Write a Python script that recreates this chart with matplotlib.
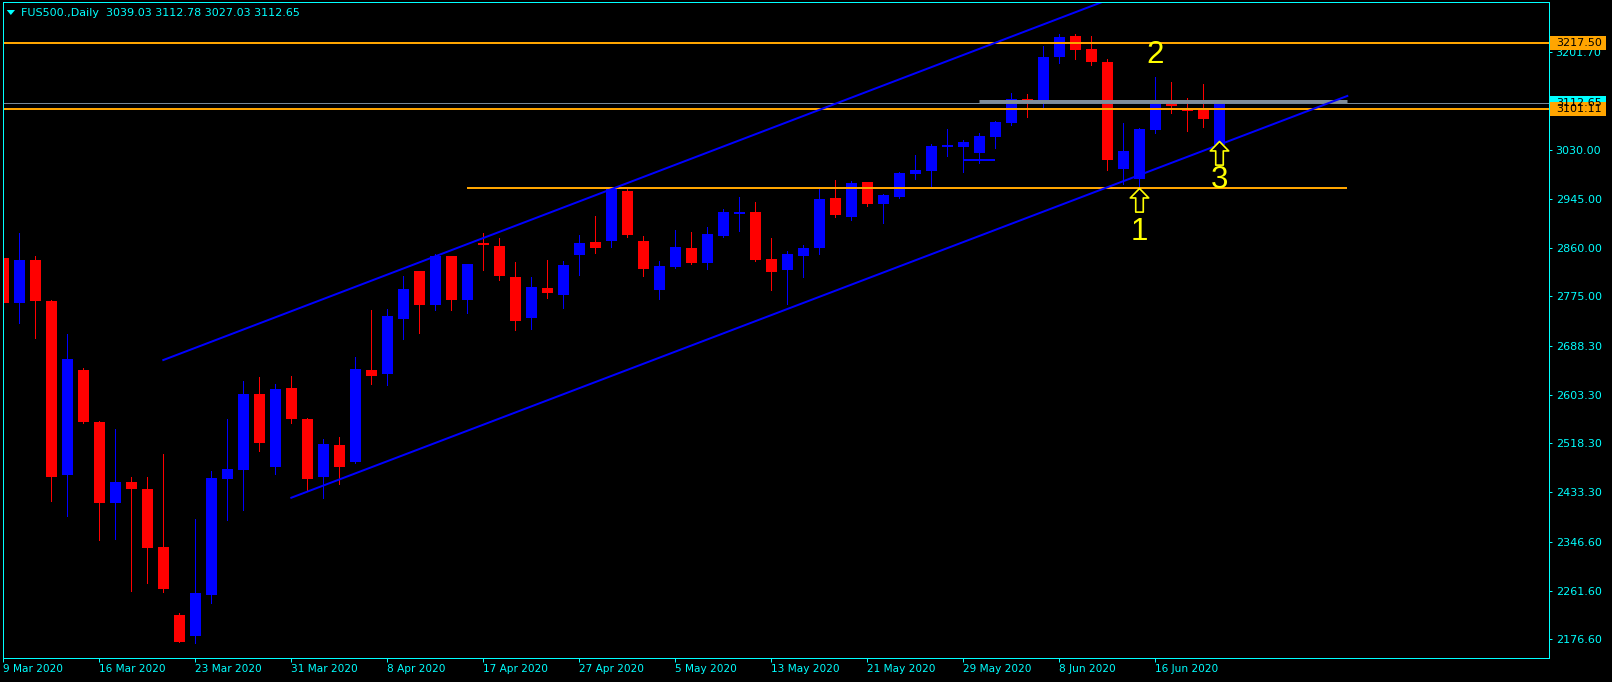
import numpy as np
import matplotlib.pyplot as plt
from matplotlib.path import Path
from matplotlib.patches import Rectangle, Polygon
import matplotlib.transforms as mtransforms

# daily FUS500 bars, 9 Mar 2020 .. 22 Jun 2020 (bar index = position)
opens = [2842, 2764, 2838, 2767, 2463, 2646, 2556, 2415, 2451, 2439,
         2338, 2219, 2183, 2254, 2456, 2472, 2604, 2477, 2615, 2561,
         2460, 2516, 2486, 2646, 2639, 2735, 2819, 2760, 2845, 2768,
         2868, 2863, 2809, 2737, 2790, 2777, 2847, 2870, 2871, 2959,
         2871, 2786, 2826, 2859, 2833, 2880, 2919, 2922, 2840, 2821,
         2845, 2859, 2947, 2913, 2974, 2936, 2948, 2989, 2994, 3035,
         3035, 3025, 3053, 3077, 3119, 3112, 3193, 3229, 3206, 3184,
         2997, 2980, 3065, 3114, 3102, 3100, 3039.03]
highs = [2850, 2885, 2845, 2769, 2709, 2650, 2557, 2544, 2460, 2460,
         2500, 2222, 2386, 2470, 2561, 2627, 2634, 2622, 2636, 2563,
         2526, 2530, 2669, 2751, 2753, 2810, 2820, 2849, 2846, 2832,
         2885, 2877, 2835, 2809, 2838, 2837, 2882, 2915, 2964, 2964,
         2880, 2837, 2891, 2887, 2896, 2927, 2948, 2940, 2877, 2854,
         2865, 2966, 2978, 2976, 2975, 2953, 2992, 3022, 3041, 3067,
         3048, 3060, 3081, 3130, 3128, 3212, 3233, 3233, 3229, 3189,
         3077, 3069, 3158, 3149, 3121, 3145, 3112.78]
lows = [2693, 2729, 2703, 2418, 2392, 2554, 2349, 2352, 2261, 2274,
        2260, 2172, 2170, 2240, 2385, 2403, 2505, 2465, 2554, 2435,
        2423, 2448, 2484, 2622, 2620, 2700, 2711, 2751, 2751, 2746,
        2821, 2803, 2716, 2718, 2772, 2755, 2812, 2850, 2861, 2878,
        2810, 2770, 2824, 2831, 2823, 2878, 2889, 2837, 2786, 2762,
        2809, 2849, 2913, 2908, 2933, 2903, 2947, 2980, 2966, 3020,
        2992, 3008, 3034, 3074, 3088, 3105, 3182, 3189, 3179, 2995,
        2971, 2964, 3060, 3095, 3063, 3070, 3027.03]
closes = [2764, 2838, 2767, 2460, 2666, 2555, 2415, 2451, 2439, 2336,
          2264, 2172, 2257, 2458, 2474, 2604, 2519, 2613, 2561, 2456,
          2517, 2477, 2648, 2636, 2741, 2788, 2760, 2845, 2768, 2831,
          2865, 2811, 2732, 2791, 2781, 2830, 2868, 2859, 2962, 2882,
          2823, 2828, 2861, 2833, 2884, 2922, 2922, 2838, 2817, 2849,
          2859, 2945, 2917, 2973, 2936, 2952, 2990, 2995, 3037, 3039,
          3044, 3055, 3079, 3119, 3114, 3193, 3227, 3205, 3184, 3013,
          3029, 3067, 3117, 3107, 3098, 3084, 3112.65]

date_ticks = [0, 6, 12, 18, 24, 30, 36, 42, 48, 54, 60, 66, 72]
date_labels = ["9 Mar 2020", "16 Mar 2020", "23 Mar 2020", "31 Mar 2020",
               "8 Apr 2020", "17 Apr 2020", "27 Apr 2020", "5 May 2020",
               "13 May 2020", "21 May 2020", "29 May 2020", "8 Jun 2020",
               "16 Jun 2020"]
price_ticks = [3201.70, 3030.00, 2945.00, 2860.00, 2775.00, 2688.30,
               2603.30, 2518.30, 2433.30, 2346.60, 2261.60, 2176.60]

# drawn objects
upper_channel = ([10, 84], [2663.8, 3451.5])
lower_channel = ([18, 84], [2423.6, 3124.5])
support_level = ([29, 84], [2964, 2964])
gray_level = ([61, 84], [3115, 3115])
blue_segment = ([60, 62], [3012.8, 3012.8])
full_levels = [3217.50, 3101.11]
bid = 3112.65
arrow_bars = [71, 76]
arrow_prices = [2964, 3046]
notes = [("1", 71, 2888), ("2", 72, 3196), ("3", 76, 2978)]

CYAN = "#00FFFF"
ORANGE = "#FFA500"
W, H = 1612, 682
px = 0.72  # one pixel in points at dpi 100

fig = plt.figure(figsize=(W / 100, H / 100), dpi=100, facecolor="black")
left, right, top, bottom = 2.7, 1548.5, 2.3, 658.0
ax = fig.add_axes([left / W, (H - bottom) / H, (right - left) / W, (bottom - top) / H])
ax.set_facecolor("black")
ax.set_xlim(-0.0375, 96.575)
ax.set_ylim(2144.0, 3287.9)

o = np.array(opens, dtype=float)
c = np.array(closes, dtype=float)
x = np.arange(len(o))
up = c >= o
cols = np.where(up, "#0000FF", "#FF0000")
ax.vlines(x, lows, highs, colors=cols, lw=px, antialiased=False, zorder=2)
ax.bar(x, np.maximum(np.abs(c - o), 1.8), bottom=np.minimum(o, c), width=0.68,
       color=cols, linewidth=0, antialiased=False, zorder=3)

# objects
ax.axhline(bid, color="#778899", lw=px, zorder=4)
ax.plot(*gray_level, color="#7F8C99", lw=3 * px, zorder=4, solid_capstyle="butt")
for lv in full_levels:
    ax.axhline(lv, color=ORANGE, lw=2 * px, zorder=5)
ax.plot(*support_level, color=ORANGE, lw=2 * px, zorder=5, solid_capstyle="butt")
ax.plot(*upper_channel, color="#0000FF", lw=2 * px, zorder=5)
ax.plot(*lower_channel, color="#0000FF", lw=2 * px, zorder=5)
ax.plot(*blue_segment, color="#0000FF", lw=2 * px, zorder=5, solid_capstyle="butt")

arrow = Path([(0, 0), (0.39, -0.4), (0.16, -0.4), (0.16, -1), (-0.16, -1),
              (-0.16, -0.4), (-0.39, -0.4), (0, 0)],
             [Path.MOVETO] + [Path.LINETO] * 6 + [Path.CLOSEPOLY])
ax.plot(arrow_bars, arrow_prices, ls="none", marker=arrow, ms=34,
        mfc="black", mec="#FFFF00", mew=1.2, zorder=7)
for t, b, p in notes:
    ax.text(b, p, t, color="#FFFF00", fontsize=22.5, family="Liberation Sans",
            ha="center", va="center", zorder=7)

# axes styling
for s in ax.spines.values():
    s.set_color(CYAN)
    s.set_linewidth(px)
    s.set_zorder(6)
ax.yaxis.tick_right()
ax.set_yticks(price_ticks)
ax.set_yticklabels([f"{v:.2f}" for v in price_ticks])
ax.set_xticks(date_ticks)
ax.set_xticklabels(date_labels)
for lab in ax.get_xticklabels():
    lab.set_horizontalalignment("left")
ax.tick_params(axis="y", colors=CYAN, labelsize=8, length=3 * px, width=px, pad=3)
ax.tick_params(axis="x", colors=CYAN, labelsize=7.6, length=4 * px, width=px, pad=1.5)

# price labels on the scale
tr = mtransforms.blended_transform_factory(ax.transAxes, ax.transData)
ppx = (3287.9 - 2144.0) / (bottom - top)
bx = (1550 - left) / (right - left)
bw = (1605.7 - 1550) / (right - left)
tx = (1555.7 - left) / (right - left)
for val, col in [(3217.50, ORANGE), (bid, CYAN), (3101.11, ORANGE)]:
    ax.add_patch(Rectangle((bx, val - 7 * ppx), bw, 14 * ppx, transform=tr,
                           facecolor=col, edgecolor="none", clip_on=False, zorder=8))
    ax.text(tx, val, f"{val:.2f}", transform=tr, color="black", fontsize=8,
            va="center", ha="left", clip_on=False, zorder=9)

# header
fig.add_artist(Polygon([(6.7 / W, 1 - 10 / H), (15 / W, 1 - 10 / H), (10.85 / W, 1 - 15 / H)],
                       closed=True, transform=fig.transFigure, facecolor=CYAN, edgecolor="none"))
fig.text(20.7 / W, 1 - 12.7 / H, "FUS500.,Daily  3039.03 3112.78 3027.03 3112.65",
         color=CYAN, fontsize=8, ha="left", va="center")

fig.savefig("out.png", dpi=100, facecolor="black")
